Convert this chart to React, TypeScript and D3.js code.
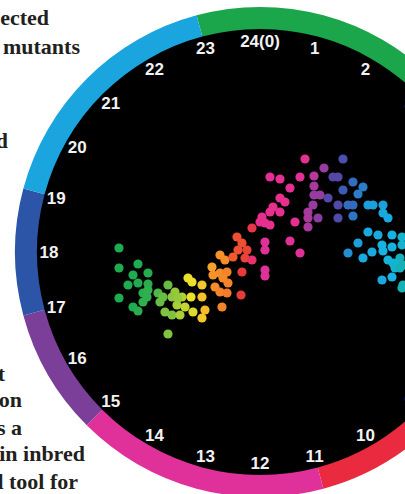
import React from 'react';
import * as d3 from 'd3';

// ---------- DATA ----------
// Hour tick labels (clockwise, 24(0) at top)
const hourValues = d3.range(24);
const hourLabels = ['24(0)', '1', '2', '3', '4', '5', '6', '7', '8', '9', '10', '11', '12', '13', '14', '15', '16', '17', '18', '19', '20', '21', '22', '23'];

// Colored ring segments (start/end hour)
const ringStart = [23, 3, 5, 8, 11, 15, 17, 19];
const ringEnd = [27, 5, 8, 11, 15, 17, 19, 23];
const ringColors = ['#1ba64b', '#f2dc22', '#f48a28', '#ea2a3e', '#e0309a', '#7c3f99', '#2c55a8', '#1ba5de'];

// Phase (hour) -> colour stops for the points
const phaseStops = [0, 1.5, 3, 4, 4.7, 6, 8, 9.5, 11, 12, 13.5, 15, 16, 17, 18, 19, 20, 21, 22, 23, 24];
const phaseColors = ['#1fab50', '#4fb64a', '#97c93c', '#ece02a', '#f7bd2a', '#f6922a', '#ef5b2d', '#e8393b', '#e8306a', '#e62f8f', '#dd3399', '#a83a9e', '#8a3d9f', '#5646a6', '#3b5bb6', '#2a7dc8', '#1ca0dc', '#18b2e2', '#14b3cf', '#15ae9f', '#1fab50'];

// Scatter points: two components (x right, y up) and phase hour
const pcX = [-141, -141, -122, -112, -127, -132, -122, -112, -117, -113, -141, -117, -127, -122, -112,
  -102, -92, -100, -95, -88, -85, -88, -83, -78, -75, -80, -72, -68, -69, -67, -92, -82, -97,
  -58, -58, -55, -58,
  -48, -40, -35, -47, -40, -33, -37, -32, -45, -40, -33, -38,
  -23, -18, -22, -13, -27, -15, -18, -19, -8, -8,
  45, 10, 20, 30, 40, 20, 25, 13, 20, 10, 2, 0, 5, 10, 35, 5, 30, 5, 40, 5, 5,
  54, 64, 54, 54, 60, 53, 48, 48, 58, 48,
  73, 78, 68, 78, 78, 83,
  83, 93, 103, 98, 88, 93, 93,
  108, 113, 123, 123, 128, 108, 118, 132, 98, 112, 122, 123, 132, 88, 103, 128, 133, 132, 122,
  142, 142, 140, 137, 135, 143, 143, 142, 140, 150, 152];
const pcY = [4, -16, -12, -21, -23, -33, -31, -32, -41, -45, -46, -50, -55, -59, -38,
  -41, -33, -50, -60, -63, -40, -45, -53, -45, -55, -63, -26, -30, -45, -60, -82, -46, -45,
  -33, -45, -58, -66,
  -15, -3, -8, -23, -21, -20, -26, -31, -35, -40, -41, -55,
  15, 9, 2, 2, -5, -6, -20, -43, -8, 24,
  93, 75, 73, 64, 75, 54, 50, 45, 40, 40, 35, 30, 29, 27, 30, 10, 11, 2, -1, -18, -24,
  76, 84, 66, 57, 57, 47, 40, 34, 34, 25,
  75, 75, 54, 47, 34, 93,
  62, 70, 65, 58, 47, 47, 36,
  47, 47, 47, 39, 34, 20, 17, 17, 9, 0, 7, 1, 5, -1, -6, -8, -11, -25, -28,
  15, 7, -6, -11, -16, -13, -33, -36, -16, 2, -18];
const phaseHour = [0, 0, 0, 0.2, 0, 0, 0, 0.3, 0.3, 0.5, 0, 0.5, 0, 0.3, 0.5,
  1.5, 2, 2, 2.5, 2.5, 3, 2.8, 3.2, 3.3, 3.5, 3.2, 4, 4, 4, 3.8, 2.5, 3, 2,
  4.5, 4.6, 4.8, 4.5,
  5.5, 6, 6.2, 6, 6.2, 6.5, 6.3, 6.5, 6.2, 6.5, 6.8, 6.5,
  8.5, 8.5, 8.5, 9, 8, 9, 9.5, 9.5, 11, 10,
  12.5, 12.5, 12.5, 12.5, 13, 12, 12, 12, 12, 12, 12, 12, 12, 12, 12.5, 13, 13, 13, 13, 13.5, 13.5,
  14.5, 15.5, 15, 15.5, 15.5, 15.5, 15, 15, 16, 15,
  17, 17, 17, 17.2, 17.2, 17.5,
  18, 18.5, 19, 19, 18.5, 18.5, 18.8,
  20, 20, 20, 20.5, 20.5, 20.5, 20.5, 21, 20, 20.5, 21, 21, 21, 19.5, 20.5, 21.5, 21.5, 21, 20.5,
  22, 22, 22.5, 22, 22, 22.5, 22.5, 22.5, 22.5, 23, 23];

// Surrounding page text fragments (cropped book page)
const pageText = ['ected', 'mutants', 'd', 't', 'on', 's a', 'in inbred', 'd tool for'];

// ---------- LAYOUT ----------
const W = 405;
const H = 494;
const cx = 260;
const cy = 252;
const rOuter = 245;
const rInner = 223;
const rLabel = 211;
const textRight = [49, 80, 8, 5, 22, 22, 85, 78];
const textBase = [25, 54, 148, 381, 407, 435, 461, 489];

export default function App() {
  const angle = d3.scaleLinear().domain([0, 24]).range([0, 2 * Math.PI]);
  const xScale = d3.scaleLinear().domain([-rInner, rInner]).range([cx - rInner, cx + rInner]);
  const yScale = d3.scaleLinear().domain([-rInner, rInner]).range([cy + rInner, cy - rInner]);
  const color = d3.scaleLinear<string>().domain(phaseStops).range(phaseColors).interpolate(d3.interpolateRgb);
  const arc = d3.arc<any>().innerRadius(rInner).outerRadius(rOuter);

  const points = pcX.map((x, i) => ({ x, y: pcY[i], h: phaseHour[i] }));

  return (
    <svg width={W} height={H} style={{ position: 'absolute', left: 0, top: 0, background: '#fff' }}>
      <rect width={W} height={H} fill="#ffffff" />
      <g>
        {pageText.map((t, i) => (
          <text key={i} x={textRight[i]} y={textBase[i]} textAnchor="end"
            fontFamily="'Liberation Serif', 'Times New Roman', serif" fontSize={22} fontWeight="bold" fill="#231f20">
            {t}
          </text>
        ))}
      </g>
      <circle cx={cx} cy={cy} r={rInner + 1} fill="#000" />
      <g transform={`translate(${cx},${cy})`}>
        {ringStart.map((s, i) => (
          <path key={i} d={arc({ startAngle: angle(s), endAngle: angle(ringEnd[i]) }) as string} fill={ringColors[i]} />
        ))}
      </g>
      <g>
        {points.map((p, i) => (
          <circle key={i} cx={xScale(p.x)} cy={yScale(p.y)} r={4.6} fill={color(p.h)} />
        ))}
      </g>
      <g>
        {hourValues.map((h, i) => {
          const a = angle(h);
          return (
            <text key={i} x={cx + rLabel * Math.sin(a)} y={cy - rLabel * Math.cos(a)} dy="0.36em"
              textAnchor="middle" fontFamily="'Liberation Sans', Arial, sans-serif" fontWeight="bold"
              fontSize={17} fill="#f2f2f2">
              {hourLabels[i]}
            </text>
          );
        })}
      </g>
    </svg>
  );
}
